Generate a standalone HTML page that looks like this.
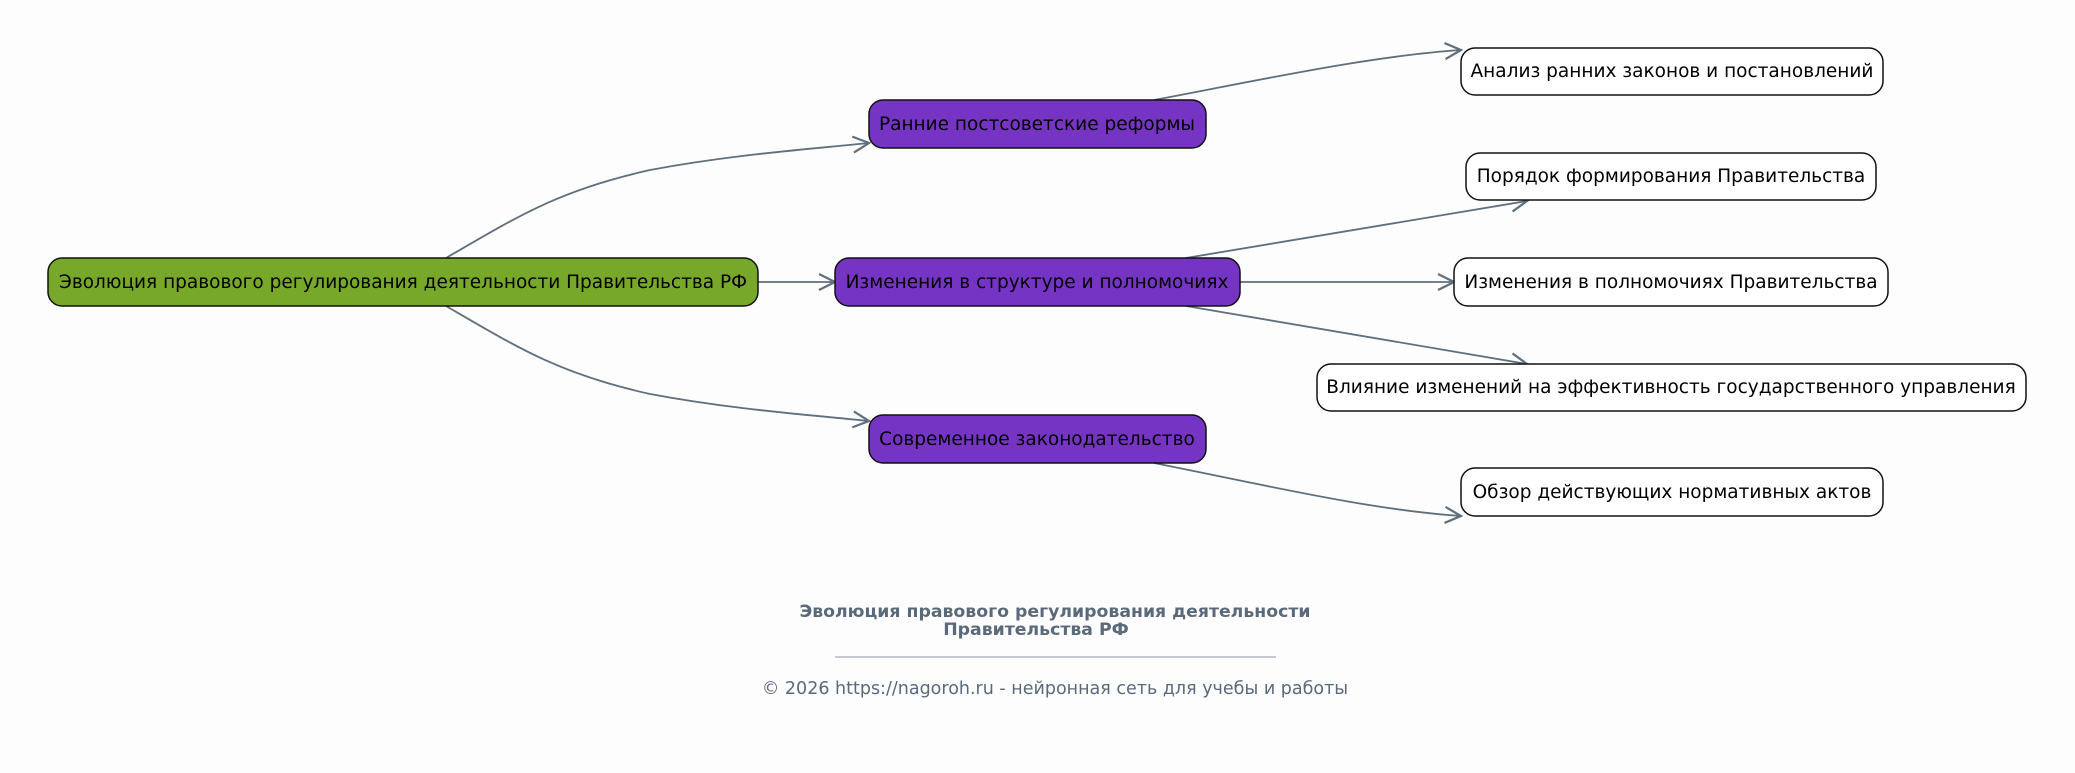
<!DOCTYPE html>
<html><head><meta charset="utf-8"><style>
html,body{margin:0;padding:0;background:#fdfdfd;}
svg{display:block;}
text{font-family:"DejaVu Sans","Liberation Sans",sans-serif;}
</style></head><body>
<svg width="2075" height="773" viewBox="0 0 2075 773" xmlns="http://www.w3.org/2000/svg">
<defs>
<marker id="a" viewBox="0 0 20 20" refX="18" refY="10" markerWidth="20" markerHeight="20" markerUnits="userSpaceOnUse" orient="auto">
<path d="M2,2 L18,10 L2,18" fill="none" stroke="#5f6f7e" stroke-width="2.2"/>
</marker>
</defs>
<g fill="none" stroke="#5f6f7e" stroke-width="1.8" marker-end="url(#a)">
<path d="M446,258 C520,215 560,190 650,170 C730,155 800,150 869,143"/>
<path d="M758,282 L835,282"/>
<path d="M446,306 C520,349 560,374 650,394 C730,409 800,414 869,421"/>
<path d="M1154,100 C1260,80 1370,56 1461,50"/>
<path d="M1186,258 L1527,201"/>
<path d="M1240,282 L1454,282"/>
<path d="M1186,306 L1527,364"/>
<path d="M1154,463 C1260,484 1370,510 1461,516"/>
</g>
<g stroke="#111" stroke-width="1.5">
<rect x="48" y="258" width="710" height="48" rx="14" fill="#77a82a"/>
<rect x="869" y="100" width="337" height="48" rx="14" fill="#7634c4"/>
<rect x="835" y="258" width="405" height="48" rx="14" fill="#7634c4"/>
<rect x="869" y="415" width="337" height="48" rx="14" fill="#7634c4"/>
<rect x="1461" y="48" width="422" height="47" rx="14" fill="#fff"/>
<rect x="1466" y="153" width="410" height="47" rx="14" fill="#fff"/>
<rect x="1454" y="258" width="434" height="48" rx="14" fill="#fff"/>
<rect x="1317" y="364" width="709" height="47" rx="14" fill="#fff"/>
<rect x="1461" y="468" width="422" height="48" rx="14" fill="#fff"/>
</g>
<g font-size="18.5" fill="#000" text-anchor="middle">
<text x="403" y="288">Эволюция правового регулирования деятельности Правительства РФ</text>
<text x="1037" y="130">Ранние постсоветские реформы</text>
<text x="1037" y="288">Изменения в структуре и полномочиях</text>
<text x="1037" y="445">Современное законодательство</text>
<text x="1672" y="77">Анализ ранних законов и постановлений</text>
<text x="1671" y="182">Порядок формирования Правительства</text>
<text x="1671" y="288">Изменения в полномочиях Правительства</text>
<text x="1671" y="393">Влияние изменений на эффективность государственного управления</text>
<text x="1672" y="498">Обзор действующих нормативных актов</text>
</g>
<g fill="#5a6a7a" text-anchor="middle">
<text x="1055" y="617" font-size="17.3" font-weight="bold">Эволюция правового регулирования деятельности</text>
<text x="1036" y="635" font-size="17.3" font-weight="bold">Правительства РФ</text>
<line x1="835" y1="657" x2="1276" y2="657" stroke="#8a96a2" stroke-width="1"/>
<text x="1055" y="694" font-size="17.5">© 2026 https://nagoroh.ru - нейронная сеть для учебы и работы</text>
</g>
</svg>
</body></html>
